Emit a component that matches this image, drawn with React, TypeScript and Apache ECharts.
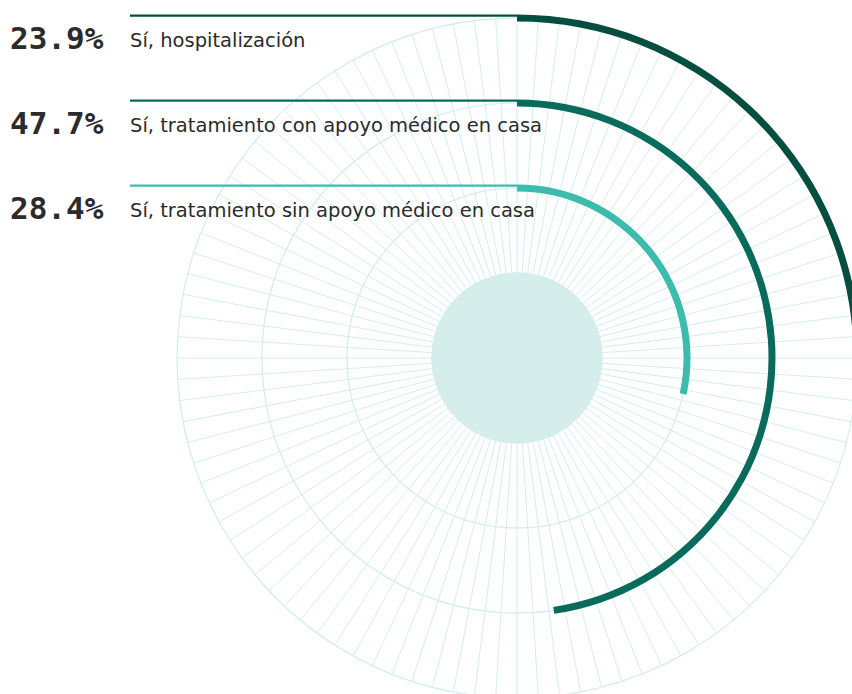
import React, { useEffect, useRef } from 'react';
import * as echarts from 'echarts';

const categories = [
  'Sí, tratamiento sin apoyo médico en casa',
  'Sí, tratamiento con apoyo médico en casa',
  'Sí, hospitalización',
];
const values = [28.4, 47.7, 23.9];
const percentLabels = ['28.4%', '47.7%', '23.9%'];
const colors = ['#3dbcad', '#086b5c', '#064e3f'];

const W = 852;
const H = 694;
const CX = 517;
const CY = 358;
const STEP = 85;
const BAR_W = 7;

export default function App() {
  const ref = useRef<HTMLDivElement>(null);
  useEffect(() => {
    if (!ref.current) return;
    const chart = echarts.init(ref.current, undefined, { renderer: 'svg' });
    const graphics: any[] = [
      {
        type: 'circle',
        z: 10,
        silent: true,
        shape: { cx: CX, cy: CY, r: STEP + 0.5 },
        style: { fill: '#d5eeec' },
      },
    ];
    categories.forEach((name, i) => {
      const r = STEP * (i + 2);
      const yLine = CY - r - BAR_W / 2 + 1.2;
      graphics.push({
        type: 'line',
        z: 10,
        silent: true,
        shape: { x1: 130, y1: yLine, x2: CX, y2: yLine },
        style: { stroke: colors[i], lineWidth: 2.2 },
      });
      graphics.push({
        type: 'text',
        z: 10,
        silent: true,
        x: 10,
        y: yLine + 22,
        style: {
          text: percentLabels[i],
          fill: '#2b2b2b',
          font: 'bold 31px "DejaVu Sans Mono", monospace',
          verticalAlign: 'middle',
          align: 'left',
        },
      });
      graphics.push({
        type: 'text',
        z: 10,
        silent: true,
        x: 130,
        y: yLine + 24.5,
        style: {
          text: name,
          fill: '#2b2b2b',
          font: '19.5px "DejaVu Sans", sans-serif',
          verticalAlign: 'middle',
          align: 'left',
        },
      });
    });

    const hidden = {
      axisLine: { show: false },
      axisTick: { show: false },
      axisLabel: { show: false },
      splitLine: { show: false },
    };

    chart.setOption({
      animation: false,
      polar: [
        { center: [CX, CY], radius: [STEP, STEP * 4] },
        { center: [CX, CY], radius: [STEP / 2, STEP * 4.5] },
      ],
      angleAxis: [
        {
          polarIndex: 0,
          type: 'value',
          min: 0,
          max: 100,
          interval: 1,
          startAngle: 90,
          axisLine: { show: false },
          axisTick: { show: false },
          axisLabel: { show: false },
          splitLine: { show: true, lineStyle: { color: '#d4eeec', width: 1 } },
        },
        {
          polarIndex: 1,
          type: 'value',
          min: 0,
          max: 100,
          startAngle: 90,
          ...hidden,
        },
      ],
      radiusAxis: [
        {
          polarIndex: 0,
          type: 'value',
          min: 0,
          max: 3,
          interval: 1,
          axisLine: { show: false },
          axisTick: { show: false },
          axisLabel: { show: false },
          splitLine: { show: true, lineStyle: { color: '#d4eeec', width: 1.3 } },
        },
        {
          polarIndex: 1,
          type: 'category',
          data: ['', ...categories],
          ...hidden,
        },
      ],
      series: [
        {
          type: 'bar',
          coordinateSystem: 'polar',
          polarIndex: 1,
          barWidth: BAR_W,
          silent: true,
          z: 5,
          data: ['-', ...values.map((v, i) => ({ value: v, itemStyle: { color: colors[i] } }))],
        },
      ],
      graphic: graphics,
    });
    return () => chart.dispose();
  }, []);
  return (
    <div
      ref={ref}
      style={{ position: 'absolute', left: 0, top: 0, width: W, height: H, overflow: 'hidden' }}
    />
  );
}
